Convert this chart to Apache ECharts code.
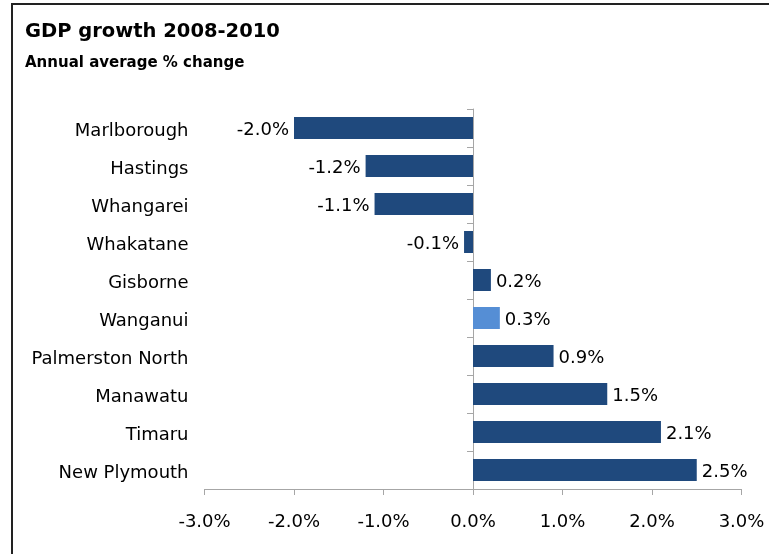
<!DOCTYPE html>
<html>
<head>
<meta charset="utf-8">
<script src="https://cdn.jsdelivr.net/npm/echarts@6/dist/echarts.min.js"></script>
<style>
  html, body { margin: 0; padding: 0; background: #fff; }
  #chart { width: 769px; height: 554px; }
</style>
</head>
<body>
<div id="chart"></div>
<script>
// Regions, top to bottom
const regions = ['Marlborough', 'Hastings', 'Whangarei', 'Whakatane', 'Gisborne',
  'Wanganui', 'Palmerston North', 'Manawatu', 'Timaru', 'New Plymouth'];
// Annual average % change in GDP, 2008-2010
const growth = [-2.0, -1.2, -1.1, -0.1, 0.2, 0.3, 0.9, 1.5, 2.1, 2.5];
// Region shown in the lighter colour
const highlight = 'Wanganui';
// Value axis ticks
const xTicks = [-3, -2, -1, 0, 1, 2, 3];

const FONT = '"DejaVu Sans", sans-serif';
const DARK = '#1F497D';
const LIGHT = '#558ED5';
const AXIS = '#a6a6a6';

const chart = echarts.init(document.getElementById('chart'), null, { renderer: 'canvas' });

const barData = growth.map((v, i) => ({
  value: v,
  itemStyle: { color: regions[i] === highlight ? LIGHT : DARK },
  label: { position: v < 0 ? 'left' : 'right' }
}));

chart.setOption({
  animation: false,
  backgroundColor: '#fff',
  title: [
    { text: 'GDP growth 2008-2010', left: 25, top: 22, padding: 0,
      textStyle: { fontFamily: FONT, fontWeight: 'bold', fontSize: 19.5, color: '#000' } },
    { text: 'Annual average % change', left: 25, top: 56, padding: 0,
      textStyle: { fontFamily: FONT, fontWeight: 'bold', fontSize: 15, color: '#000' } }
  ],
  // frame around the chart area
  graphic: [{
    type: 'rect', z: 100,
    shape: { x: 12, y: 4, width: 900, height: 700 },
    style: { fill: 'none', stroke: '#222', lineWidth: 2 }
  }],
  grid: { left: 204.5, right: 27.5, top: 109, bottom: 65, containLabel: false },
  xAxis: {
    type: 'value',
    min: xTicks[0], max: xTicks[xTicks.length - 1], interval: 1,
    axisLine: { show: true, lineStyle: { color: AXIS, width: 1 } },
    axisTick: { show: true, length: 6, lineStyle: { color: AXIS } },
    splitLine: { show: false },
    axisLabel: {
      margin: 24, fontFamily: FONT, fontSize: 18, color: '#000',
      formatter: v => v.toFixed(1) + '%'
    }
  },
  yAxis: [
    {
      type: 'category', data: regions, inverse: true, position: 'left',
      axisLine: { show: false, onZero: false }, axisTick: { show: false },
      axisLabel: {
        margin: 16, fontFamily: FONT, fontSize: 18, color: '#000',
        formatter: v => '{n|' + v + '}',
        rich: { n: { fontFamily: FONT, fontSize: 18, color: '#000', padding: [7, 0, 0, 0] } }
      }
    },
    {
      type: 'category', data: regions, inverse: true, position: 'left',
      axisLine: { show: true, onZero: true, lineStyle: { color: AXIS, width: 1 } },
      axisTick: { show: true, length: 6, lineStyle: { color: AXIS } },
      axisLabel: { show: false }
    }
  ],
  series: [{
    type: 'bar', yAxisIndex: 0, barWidth: 22,
    data: barData,
    label: {
      show: true, distance: 5, offset: [0, 2], fontFamily: FONT, fontSize: 18, color: '#000',
      formatter: p => p.value.toFixed(1) + '%'
    }
  }]
});
</script>
</body>
</html>
